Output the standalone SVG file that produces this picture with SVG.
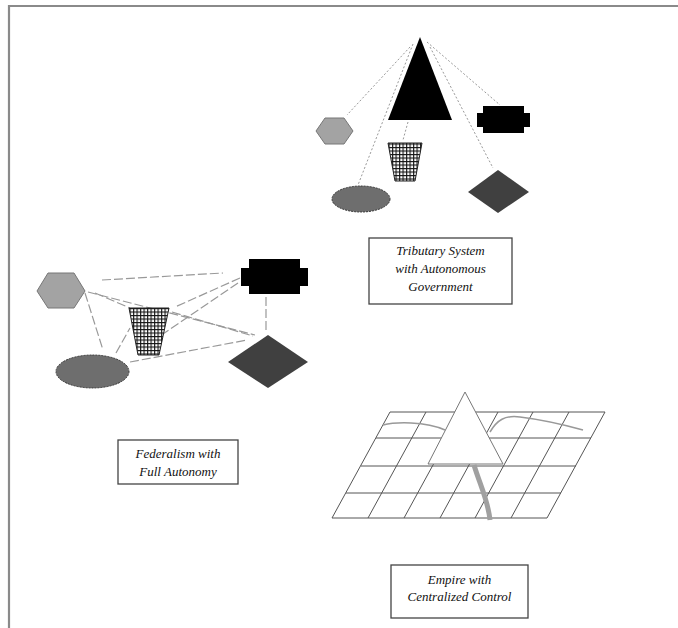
<svg xmlns="http://www.w3.org/2000/svg" width="678" height="628" viewBox="0 0 678 628">
<defs>
<pattern id="mesh" width="3.5" height="3.5" patternUnits="userSpaceOnUse">
<rect width="3.5" height="3.5" fill="#fff"/>
<path d="M0 0.6H3.5M0.6 0V3.5" stroke="#111" stroke-width="1.1"/>
</pattern>
<style>
.frame{fill:none;stroke:#8a8a8a;stroke-width:2.2}
.dot{fill:none;stroke:#999;stroke-width:1;stroke-dasharray:2 2}
.dash{fill:none;stroke:#999;stroke-width:1.2;stroke-dasharray:9 3}
.hex{fill:#a3a3a3;stroke:#777;stroke-width:1}
.blk{fill:#000}
.trap{fill:url(#mesh);stroke:#222;stroke-width:1}
.ell{fill:#6e6e6e;stroke:#333;stroke-width:1;stroke-dasharray:2 1}
.dia{fill:#404040}
.box{fill:#fff;stroke:#444;stroke-width:1.3}
.lbl{font-family:"Liberation Serif",serif;font-style:italic;font-size:13px;fill:#111;text-anchor:middle}
.grid{fill:none;stroke:#555;stroke-width:1}
</style>
</defs>
<rect width="678" height="628" fill="#fff"/>
<path class="frame" d="M678 6H9V628"/>

<g id="connectors">
<g id="tributary-links">
<line class="dot" x1="410" y1="47" x2="347" y2="115"/>
<line class="dot" x1="413" y1="44" x2="358" y2="185"/>
<line class="dot" x1="408" y1="122" x2="403" y2="140"/>
<line class="dot" x1="427" y1="42" x2="500" y2="105"/>
<line class="dot" x1="430" y1="47" x2="493" y2="168"/>
</g>
<g id="federal-links">
<line class="dash" x1="102" y1="280" x2="223" y2="273"/>
<line class="dash" x1="95" y1="293" x2="130" y2="308"/>
<line class="dash" x1="85" y1="293" x2="103" y2="350"/>
<line class="dash" x1="88" y1="292" x2="255" y2="335"/>
<line class="dash" x1="240" y1="278" x2="175" y2="307"/>
<line class="dash" x1="238" y1="283" x2="160" y2="336"/>
<line class="dash" x1="266" y1="297" x2="266" y2="330"/>
<line class="dash" x1="116" y1="353" x2="130" y2="328"/>
<line class="dash" x1="172" y1="312" x2="253" y2="336"/>
<line class="dash" x1="130" y1="362" x2="247" y2="340"/>
</g>
</g>

<g id="tributary">
<g id="t-apex"><polygon class="blk" points="420,37 452,120 388,120"/></g>
<g id="t-hex"><polygon class="hex" points="316,131 325,118 344,118 353,131 344,144 325,144"/></g>
<g id="t-rect"><path class="blk" d="M483 106H524V113H530V127H524V133H483V127H477V113H483Z"/></g>
<g id="t-trap"><polygon class="trap" points="388,143 422,143 415,181 395,181"/></g>
<g id="t-ell"><ellipse class="ell" cx="361" cy="199" rx="29" ry="13"/></g>
<g id="t-dia"><polygon class="dia" points="498,170 529,192 498,213 468,192"/></g>
<g id="t-label">
<rect class="box" x="369" y="238" width="143" height="66"/>
<text class="lbl" x="440.5" y="255">Tributary System</text>
<text class="lbl" x="440.5" y="273">with Autonomous</text>
<text class="lbl" x="440.5" y="291">Government</text>
</g>
</g>

<g id="federal">
<g id="f-hex"><polygon class="hex" points="37,291 48,273 74,273 85,291 74,308 48,308"/></g>
<g id="f-rect"><path class="blk" d="M249 259H300V268H308V286H300V294H249V286H241V268H249Z"/></g>
<g id="f-trap"><polygon class="trap" points="129,308 169,308 159,355 138,355"/></g>
<g id="f-ell"><ellipse class="ell" cx="92.5" cy="371.5" rx="36.5" ry="16.5"/></g>
<g id="f-dia"><polygon class="dia" points="268,335 308,362 268,388 228,362"/></g>
<g id="f-label">
<rect class="box" x="118" y="440" width="120" height="44"/>
<text class="lbl" x="178" y="458">Federalism with</text>
<text class="lbl" x="178" y="476">Full Autonomy</text>
</g>
</g>

<g id="empire">
<g id="e-grid">
<polygon class="grid" points="390,412 605,412 547,518 332,518"/>
<line class="grid" x1="376" y1="438" x2="591" y2="438" stroke="#333" stroke-width="1.6"/>
<line class="grid" x1="361" y1="466" x2="576" y2="466" stroke="#999"/>
<line class="grid" x1="346" y1="493" x2="561" y2="493"/>
<line class="grid" x1="426" y1="412" x2="368" y2="518"/>
<line class="grid" x1="462" y1="412" x2="404" y2="518"/>
<line class="grid" x1="498" y1="412" x2="440" y2="518"/>
<line class="grid" x1="533" y1="412" x2="475" y2="518"/>
<line class="grid" x1="569" y1="412" x2="511" y2="518"/>
<path d="M383 425C395 422 425 421 445 430" fill="none" stroke="#999" stroke-width="1.5"/>
<path d="M490 432C497 420 505 415 520 417C545 420 565 425 583 430" fill="none" stroke="#999" stroke-width="1.5"/>
</g>
<g id="e-apex"><polygon points="465,392 503,464 428,464" fill="#fff" stroke="#777" stroke-width="1"/></g>
<path d="M474 465C480 485 488 500 490 520" fill="none" stroke="#a0a0a0" stroke-width="5"/>
<g id="e-label">
<rect class="box" x="391" y="565" width="137" height="53"/>
<text class="lbl" x="459.5" y="584">Empire with</text>
<text class="lbl" x="459.5" y="601">Centralized Control</text>
</g>
</g>
</svg>
